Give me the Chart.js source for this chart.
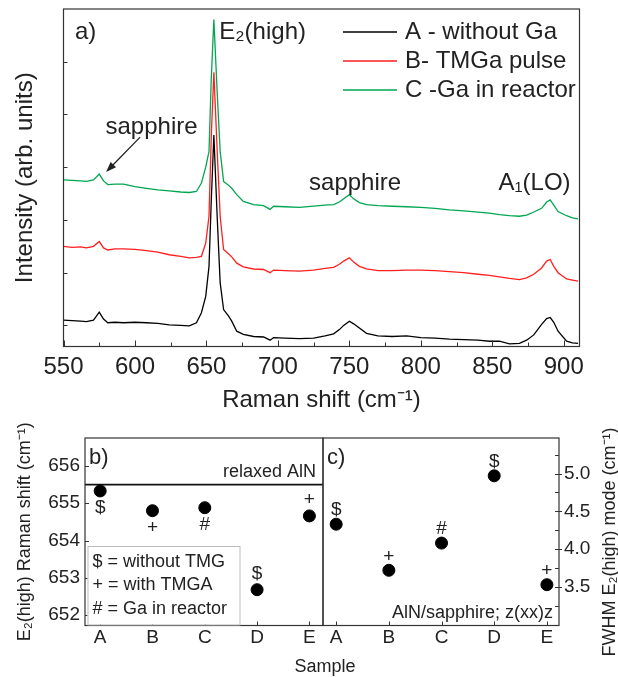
<!DOCTYPE html>
<html>
<head>
<meta charset="utf-8">
<script src="https://cdn.jsdelivr.net/npm/chart.js@4.4.0/dist/chart.umd.min.js"></script>
<style>
  html, body { margin: 0; padding: 0; background: #fff; }
  #wrap { position: relative; width: 618px; height: 677px; overflow: hidden; }
  canvas { position: absolute; }
  #spectra { left: 0; top: 0; }
  #shift { left: 0; top: 420px; }
  #fwhm { left: 300px; top: 420px; }
  #sample-label {
    position: absolute; left: 275px; width: 100px; top: 656px;
    text-align: center; line-height: 24px; color: #222;
    font: 18px 'Liberation Sans', Arial, sans-serif;
  }
</style>
</head>
<body>
<div id="wrap">
  <canvas id="spectra" width="618" height="420"></canvas>
  <canvas id="shift" width="330" height="257"></canvas>
  <canvas id="fwhm" width="318" height="257"></canvas>
  <div id="sample-label">Sample</div>
</div>
<script>
// ---- panel a: Raman spectra ----
const ramanShift = [550, 556, 562, 566, 571, 575, 578, 581, 586, 592, 600, 608, 616, 624, 632, 638, 643,
  646.5, 649.5, 651.8, 653.4, 655.2, 657.5, 659.6, 662, 665.4, 667.7, 671.2, 675.8, 683, 690, 694.5, 697,
  705, 715, 725, 733, 739, 743, 746, 750, 753, 757, 762, 770, 780, 790, 800, 810, 820, 830, 840, 848, 855,
  862, 869, 874, 879, 884.5, 888, 890.5, 893, 896, 902, 906, 910];
const intensityA = [0.10, 0.09, 0.08, 0.07, 0.10, 0.25, 0.12, 0.05, 0.06, 0.05, 0.06, 0.05, 0.04, 0.01, 0.00, -0.01, 0.05,
  0.24, 0.55, 1.12, 2.38, 3.61, 2.07, 0.81, 0.30, 0.18, 0.08, -0.11, -0.17, -0.21, -0.22, -0.28, -0.23,
  -0.24, -0.25, -0.24, -0.20, -0.16, -0.08, 0.00, 0.08, 0.03, -0.05, -0.15, -0.20, -0.21, -0.20, -0.23, -0.24, -0.26, -0.27, -0.28, -0.30, -0.30,
  -0.35, -0.34, -0.28, -0.18, 0.02, 0.13, 0.15, 0.06, -0.11, -0.30, -0.33, -0.34];
const intensityB = [1.50, 1.48, 1.49, 1.47, 1.50, 1.59, 1.47, 1.43, 1.45, 1.45, 1.44, 1.42, 1.39, 1.34, 1.31, 1.28, 1.29,
  1.31, 1.56, 2.07, 3.59, 4.80, 3.32, 2.07, 1.44, 1.36, 1.30, 1.18, 1.11, 1.07, 1.06, 1.00, 1.05,
  1.04, 1.03, 1.05, 1.08, 1.10, 1.16, 1.22, 1.28, 1.20, 1.12, 1.07, 1.04, 1.04, 1.05, 1.05, 1.04, 1.02, 1.00, 0.97, 0.95, 0.92,
  0.89, 0.87, 0.90, 0.97, 1.09, 1.22, 1.25, 1.12, 1.00, 0.88, 0.86, 0.84];
const intensityC = [2.76, 2.75, 2.74, 2.73, 2.76, 2.87, 2.74, 2.67, 2.68, 2.68, 2.63, 2.60, 2.57, 2.55, 2.53, 2.52, 2.54,
  2.70, 3.00, 3.30, 4.69, 5.80, 4.43, 3.30, 2.73, 2.66, 2.60, 2.48, 2.35, 2.29, 2.27, 2.20, 2.26,
  2.25, 2.24, 2.26, 2.28, 2.29, 2.34, 2.40, 2.48, 2.40, 2.33, 2.29, 2.27, 2.26, 2.25, 2.24, 2.22, 2.19, 2.17, 2.15, 2.13, 2.10,
  2.08, 2.07, 2.09, 2.15, 2.22, 2.34, 2.38, 2.28, 2.16, 2.08, 2.04, 2.02];
const spectraLabels = ['A - without Ga', 'B- TMGa pulse', 'C -Ga in reactor'];
const ramanTicks = [550, 600, 650, 700, 750, 800, 850, 900];
const ramanMinorTicks = [575, 625, 675, 725, 775, 825, 875];
const intensityTicks = [0, 1, 2, 3, 4, 5];

// ---- panels b and c: per-sample E2(high) position and width ----
const samples = ['A', 'B', 'C', 'D', 'E'];
const e2Shift = [655.33, 654.80, 654.88, 652.68, 654.66];
const e2Fwhm = [4.33, 3.72, 4.08, 4.97, 3.53];
const growthMark = ['$', '+', '#', '$', '+'];
const relaxedAlN = 655.5;
const shiftTicks = [652, 653, 654, 655, 656];
const fwhmTicks = [3.5, 4.0, 4.5, 5.0];
const fwhmMinorTicks = [3.25, 3.75, 4.25, 4.75, 5.25];
const markMeaning = [['$', 'without TMG'], ['+', 'with TMGA'], ['#', 'Ga in reactor']];

const FONT = "'Liberation Sans', Arial, sans-serif";
const INK = '#222';
Chart.defaults.font.family = FONT;
Chart.defaults.color = INK;

// box around the plot area + inward tick marks
const frameTicks = {
  id: 'frameTicks',
  afterDatasetsDraw(chart, args, opts) {
    const { ctx, chartArea: a } = chart;
    ctx.save();
    ctx.strokeStyle = '#333';
    ctx.lineWidth = 1;
    (opts.marks || []).forEach(m => {
      const scale = chart.scales[m.axis];
      const out = m.out || 0;
      m.values.forEach(v => {
        const p = Math.round(scale.getPixelForValue(v)) + 0.5;
        ctx.beginPath();
        if (m.edge === 'bottom') {
          ctx.moveTo(p, a.bottom + out);
          ctx.lineTo(p, a.bottom - m.len);
        } else if (m.edge === 'left') {
          ctx.moveTo(a.left - out, p);
          ctx.lineTo(a.left + m.len, p);
        } else {
          ctx.moveTo(a.right + out, p);
          ctx.lineTo(a.right - m.len, p);
        }
        ctx.stroke();
      });
    });
    ctx.lineWidth = 1.2;
    ctx.strokeRect(a.left, a.top, a.width, a.height);
    ctx.restore();
  }
};

// free text and arrows; "atX/atY" are data units, "left/top" canvas pixels
const notes = {
  id: 'notes',
  afterDraw(chart, args, opts) {
    const { ctx, scales } = chart;
    const pos = n => (n.atX !== undefined)
      ? { x: scales.x.getPixelForValue(n.atX) + (n.dx || 0), y: scales.y.getPixelForValue(n.atY) + (n.dy || 0) }
      : { x: n.left, y: n.top };
    ctx.save();
    ctx.fillStyle = INK;
    ctx.textBaseline = 'middle';
    (opts.items || []).forEach(n => {
      const p = pos(n);
      ctx.font = n.font;
      ctx.textAlign = n.align || 'left';
      ctx.save();
      ctx.translate(p.x, p.y);
      if (n.rotate) ctx.rotate(n.rotate);
      ctx.fillText(n.text, 0, 0);
      ctx.restore();
    });
    (opts.arrows || []).forEach(ar => {
      const s = pos({ atX: ar.fromX, atY: ar.fromY });
      const e = pos({ atX: ar.toX, atY: ar.toY });
      const ang = Math.atan2(e.y - s.y, e.x - s.x);
      ctx.strokeStyle = INK;
      ctx.lineWidth = 1.3;
      ctx.beginPath();
      ctx.moveTo(s.x, s.y);
      ctx.lineTo(e.x - 8 * Math.cos(ang), e.y - 8 * Math.sin(ang));
      ctx.stroke();
      ctx.beginPath();
      ctx.moveTo(e.x, e.y);
      ctx.lineTo(e.x - 11 * Math.cos(ang - 0.35), e.y - 11 * Math.sin(ang - 0.35));
      ctx.lineTo(e.x - 11 * Math.cos(ang + 0.35), e.y - 11 * Math.sin(ang + 0.35));
      ctx.closePath();
      ctx.fill();
    });
    ctx.restore();
  }
};

// legend of the spectra, drawn inside the plot
const lineLegend = {
  id: 'lineLegend',
  afterDraw(chart, args, opts) {
    if (!opts.x) return;
    const { ctx } = chart;
    ctx.save();
    ctx.font = opts.font;
    ctx.textBaseline = 'middle';
    ctx.fillStyle = INK;
    chart.data.datasets.forEach((ds, i) => {
      const y = opts.y + i * opts.rowHeight;
      ctx.strokeStyle = ds.borderColor;
      ctx.lineWidth = 1.6;
      ctx.beginPath();
      ctx.moveTo(opts.x, y);
      ctx.lineTo(opts.x + opts.lineLength, y);
      ctx.stroke();
      ctx.fillText(ds.label, opts.x + opts.lineLength + opts.gap, y);
    });
    ctx.restore();
  }
};

// $ / + / # marks next to each sample point
const pointMarks = {
  id: 'pointMarks',
  afterDatasetsDraw(chart, args, opts) {
    if (!opts.sides) return;
    const { ctx } = chart;
    const meta = chart.getDatasetMeta(0);
    ctx.save();
    ctx.font = opts.font;
    ctx.fillStyle = INK;
    ctx.textAlign = 'center';
    ctx.textBaseline = 'middle';
    meta.data.forEach((el, i) => {
      const dy = opts.sides[i] === 'below' ? opts.below : -opts.above;
      ctx.fillText(growthMark[i], el.x, el.y + dy);
    });
    ctx.restore();
  }
};

// key for the $ / + / # marks
const markKey = {
  id: 'markKey',
  afterDraw(chart, args, opts) {
    if (!opts.boxLeft) return;
    const { ctx } = chart;
    const w = opts.boxRight - opts.boxLeft;
    const h = opts.boxBottom - opts.boxTop;
    ctx.save();
    ctx.fillStyle = '#fff';
    ctx.fillRect(opts.boxLeft, opts.boxTop, w, h);
    ctx.strokeStyle = '#bdbdbd';
    ctx.lineWidth = 1;
    ctx.strokeRect(opts.boxLeft + 0.5, opts.boxTop + 0.5, w, h);
    ctx.font = opts.font;
    ctx.fillStyle = INK;
    ctx.textBaseline = 'middle';
    markMeaning.forEach(([sym, text], i) => {
      ctx.fillText(sym + ' = ' + text, opts.boxLeft + 5, opts.boxTop + opts.firstRow + i * opts.rowHeight);
    });
    ctx.restore();
  }
};

const noFrame = { display: false };
const noGrid = { display: false, drawTicks: false };

// ---------- panel a ----------
const spectraColors = ['#000000', '#ff1f1f', '#00a651'];
const spectraSeries = [intensityA, intensityB, intensityC];

new Chart(document.getElementById('spectra'), {
  type: 'line',
  data: {
    datasets: spectraSeries.map((vals, i) => ({
      label: spectraLabels[i],
      data: ramanShift.map((x, k) => ({ x, y: vals[k] })),
      borderColor: spectraColors[i],
      borderWidth: 1.3,
      pointRadius: 0,
      tension: 0
    }))
  },
  options: {
    responsive: false,
    animation: false,
    layout: { padding: { left: 0, top: 9, right: 38.5, bottom: 0 } },
    scales: {
      x: {
        type: 'linear', min: 550, max: 911,
        grid: noGrid, border: noFrame,
        afterBuildTicks: s => { s.ticks = ramanTicks.map(v => ({ value: v })); },
        ticks: { font: { size: 24 }, color: INK, padding: 6, maxRotation: 0, autoSkip: false },
        title: { display: true, text: 'Raman shift (cm⁻¹)', font: { size: 24 }, color: INK, padding: { top: 0, bottom: 5.6 } },
        afterFit: s => { s.height = 73.5; }
      },
      y: {
        min: -0.4, max: 6.0,
        grid: noGrid, border: noFrame,
        ticks: { display: false },
        title: { display: true, text: 'Intensity (arb. units)', font: { size: 24 }, color: INK, padding: { top: 10.6, bottom: 0 } },
        afterFit: s => { s.width = 63.5; }
      }
    },
    plugins: {
      legend: { display: false },
      tooltip: { enabled: false },
      frameTicks: {
        marks: [
          { axis: 'x', edge: 'bottom', values: ramanTicks, len: 6 },
          { axis: 'x', edge: 'bottom', values: ramanMinorTicks, len: 4 },
          { axis: 'y', edge: 'left', values: intensityTicks, len: 4 }
        ]
      },
      lineLegend: { x: 343, y: 32, rowHeight: 29, lineLength: 54, gap: 8, font: '24px ' + FONT },
      notes: {
        items: [
          { text: 'a)', left: 75, top: 32, font: '24px ' + FONT },
          { text: 'E₂(high)', atX: 659, atY: 5.56, font: '24px ' + FONT },
          { text: 'sapphire', atX: 611.6, atY: 3.76, align: 'center', font: '24px ' + FONT },
          { text: 'sapphire', atX: 754, atY: 2.70, align: 'center', font: '24px ' + FONT },
          { text: 'A₁(LO)', atX: 854.3, atY: 2.70, font: '24px ' + FONT }
        ],
        arrows: [{ fromX: 603.6, fromY: 3.57, toX: 579.8, toY: 2.91 }]
      }
    }
  },
  plugins: [frameTicks, lineLegend, notes]
});

// ---------- panel b ----------
const sampleAxis = (min, max) => ({
  type: 'linear', min, max,
  grid: noGrid, border: noFrame,
  afterBuildTicks: s => { s.ticks = samples.map((_, i) => ({ value: i })); },
  ticks: { callback: v => samples[v], font: { size: 19 }, color: INK, padding: 1, maxRotation: 0, autoSkip: false },
  afterFit: s => { s.height = 51.5; }
});

new Chart(document.getElementById('shift'), {
  type: 'scatter',
  data: {
    datasets: [
      {
        data: samples.map((s, i) => ({ x: i, y: e2Shift[i] })),
        pointRadius: 6, pointBorderWidth: 1,
        pointBackgroundColor: '#000', pointBorderColor: '#000'
      },
      {
        data: [{ x: -0.29, y: relaxedAlN }, { x: 4.26, y: relaxedAlN }],
        showLine: true, borderColor: '#111', borderWidth: 1.6, pointRadius: 0
      }
    ]
  },
  options: {
    responsive: false,
    animation: false,
    layout: { padding: { left: 0, top: 18, right: 7, bottom: 0 } },
    scales: {
      x: sampleAxis(-0.29, 4.26),
      y: {
        min: 651.72, max: 656.75,
        grid: noGrid, border: noFrame,
        afterBuildTicks: s => { s.ticks = shiftTicks.map(v => ({ value: v })); },
        ticks: { font: { size: 19 }, color: INK, padding: 5 },
        title: { display: true, text: 'E₂(high) Raman shift (cm⁻¹)', font: { size: 18 }, color: INK, padding: { top: 14.2, bottom: 0 } },
        afterFit: s => { s.width = 85; }
      }
    },
    plugins: {
      legend: { display: false },
      tooltip: { enabled: false },
      frameTicks: {
        marks: [
          { axis: 'x', edge: 'bottom', values: [0, 1, 2, 3, 4], len: 4 },
          { axis: 'y', edge: 'left', values: shiftTicks, len: 4 }
        ]
      },
      pointMarks: { sides: ['below', 'below', 'below', 'above', 'above'], below: 17, above: 16, font: '19px ' + FONT },
      markKey: { boxLeft: 87.5, boxTop: 126, boxRight: 239.5, boxBottom: 204.5, firstRow: 16, rowHeight: 23.5, font: '18px ' + FONT },
      notes: {
        items: [
          { text: 'b)', left: 89, top: 38, font: '22px ' + FONT },
          { text: 'relaxed AlN', atX: 4.26, atY: relaxedAlN, dx: -7, dy: -13, align: 'right', font: '18px ' + FONT }
        ]
      }
    }
  },
  plugins: [frameTicks, pointMarks, markKey, notes]
});

// ---------- panel c ----------
new Chart(document.getElementById('fwhm'), {
  type: 'scatter',
  data: {
    datasets: [{
      data: samples.map((s, i) => ({ x: i, y: e2Fwhm[i] })),
      pointRadius: 6, pointBorderWidth: 1,
      pointBackgroundColor: '#000', pointBorderColor: '#000'
    }]
  },
  options: {
    responsive: false,
    animation: false,
    layout: { padding: { left: 23, top: 18, right: 0, bottom: 0 } },
    scales: {
      x: sampleAxis(-0.25, 4.23),
      y: {
        position: 'right',
        min: 2.99, max: 5.47,
        grid: noGrid, border: noFrame,
        afterBuildTicks: s => { s.ticks = fwhmTicks.map(v => ({ value: v })); },
        ticks: { callback: v => v.toFixed(1), font: { size: 19 }, color: INK, padding: 5 },
        afterFit: s => { s.width = 59; }
      }
    },
    plugins: {
      legend: { display: false },
      tooltip: { enabled: false },
      frameTicks: {
        marks: [
          { axis: 'x', edge: 'bottom', values: [0, 1, 2, 3, 4], len: 4 },
          { axis: 'y', edge: 'right', values: fwhmTicks, len: 4, out: 3 },
          { axis: 'y', edge: 'right', values: fwhmMinorTicks, len: 4 }
        ]
      },
      pointMarks: { sides: ['above', 'above', 'above', 'above', 'above'], below: 0, above: 14, font: '19px ' + FONT },
      notes: {
        items: [
          { text: 'c)', left: 27, top: 38, font: '22px ' + FONT },
          { text: 'AlN/sapphire; z(xx)z', left: 253, top: 193, align: 'right', font: '18px ' + FONT },
          { text: 'FWHM E₂(high) mode (cm⁻¹)', left: 310, top: 122, align: 'center', rotate: -Math.PI / 2, font: '18px ' + FONT }
        ]
      }
    }
  },
  plugins: [frameTicks, pointMarks, notes]
});
</script>
</body>
</html>
